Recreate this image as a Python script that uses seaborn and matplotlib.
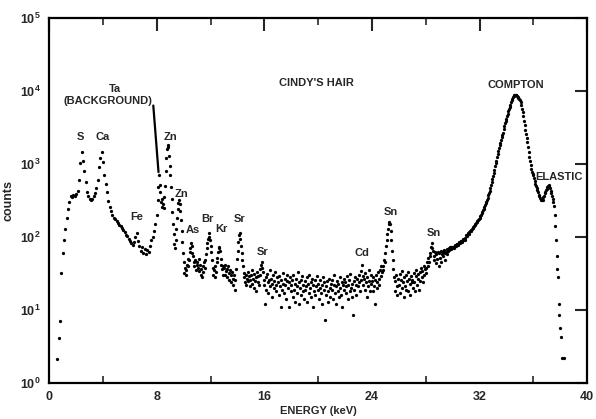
"""XRF spectrum of a hair sample, log-count scatter."""

import numpy as np
import pandas as pd
import matplotlib
matplotlib.use("Agg")
import matplotlib.pyplot as plt
import seaborn as sns
from matplotlib.ticker import FixedLocator, LogLocator, NullLocator

# channel grids (keV): start and step for each recorded block
SEG_A_START, SEG_A_STEP = 0.6, 0.1
SEG_B_START, SEG_B_STEP = 8.0, 0.05
SEG_C_START, SEG_C_STEP = 30.0, 0.05

# counts
SEG_A_COUNTS = [
    2.1, 4.2, 7.0, 32, 60, 92, 130, 180, 240, 300,
    360, 350, 380, 370, 390, 430, 600, 1030, 1450, 1100,
    800, 560, 420, 360, 330, 320, 330, 360, 400, 470,
    600, 900, 1200, 1450, 1050, 700, 540, 420, 310, 260,
    225, 200, 185, 175, 165, 158, 148, 140, 133, 125,
    117, 108, 102, 95, 88, 83, 78, 85, 100, 115,
    88, 75, 65, 72, 60, 68, 58, 66, 62, 75,
    90, 100, 120, 150,
]
SEG_B_COUNTS = [
    200, 320, 480, 700, 520, 410, 300, 330, 260, 280, 250, 350, 500, 800, 1200, 1600, 1850, 1700, 1300, 950,
    700, 480, 330, 220, 150, 110, 80, 70, 90, 130, 180, 240, 290, 320, 280, 230, 170, 120, 85, 60,
    45, 32, 38, 30, 35, 42, 40, 50, 48, 62, 70, 82, 75, 60, 55, 45, 40, 48, 35, 42,
    45, 38, 50, 34, 42, 30, 36, 28, 40, 33, 45, 38, 48, 58, 70, 82, 95, 100, 112, 90,
    75, 62, 48, 38, 30, 35, 28, 40, 33, 45, 52, 62, 70, 72, 65, 50, 42, 36, 30, 40,
    38, 30, 42, 34, 28, 36, 40, 32, 26, 35, 30, 24, 33, 27, 22, 30, 19, 26, 36, 50,
    65, 85, 105, 112, 95, 75, 60, 48, 40, 32, 28, 24, 30, 22, 27, 33, 25, 29, 21, 26,
    30, 23, 35, 27, 20, 31, 25, 18, 28, 33, 24, 29, 22, 30, 36, 42, 45, 38, 33, 26,
    22, 12, 28, 19, 31, 24, 17, 26, 35, 21, 27, 15, 23, 30, 20, 25, 33, 18, 22, 28,
    24, 16, 29, 21, 11, 26, 19, 32, 23, 17, 27, 22, 14, 25, 30, 20, 24, 11, 28, 18,
    22, 26, 15, 30, 19, 23, 13, 27, 21, 17, 33, 24, 12, 20, 26, 16, 29, 22, 18, 14,
    25, 19, 21, 28, 13, 23, 17, 30, 20, 15, 24, 27, 11, 22, 18, 26, 16, 21, 29, 19,
    23, 14, 20, 26, 17, 22, 12, 28, 19, 24, 7.3, 21, 16, 25, 18, 13, 27, 20, 15, 23,
    19, 26, 14, 22, 30, 17, 21, 12, 25, 18, 23, 15, 28, 20, 16, 24, 11, 22, 27, 19,
    24, 17, 21, 29, 14, 22, 26, 18, 31, 20, 15, 23, 8.5, 25, 19, 28, 22, 16, 27, 21,
    24, 30, 18, 26, 34, 41, 29, 22, 27, 19, 32, 24, 15, 28, 21, 35, 25, 18, 30, 23,
    25, 18, 28, 21, 12, 26, 30, 20, 24, 33, 27, 22, 35, 29, 40, 33, 40, 35, 48, 45,
    60, 75, 90, 110, 130, 150, 160, 150, 120, 90, 65, 48, 36, 28, 18, 25, 30, 21, 16, 27,
    22, 31, 17, 26, 20, 34, 24, 15, 28, 21, 30, 19, 25, 33, 18, 27, 23, 16, 29, 24,
    26, 20, 32, 24, 18, 29, 35, 22, 27, 31, 19, 33, 25, 38, 28, 34, 24, 40, 30, 36,
    38, 32, 45, 40, 52, 46, 60, 55, 72, 82, 70, 64, 55, 48, 62, 44, 58, 50, 63, 40,
    60, 52, 64, 45, 58, 62, 55, 66, 48, 60, 62, 68, 58, 64, 70, 66, 72, 68, 74, 70,
]
SEG_C_COUNTS = [
    72, 74, 71, 76, 78, 75, 79, 81, 78, 83, 85, 82, 87, 89, 86, 91, 93, 95, 92, 98,
    105, 103, 108, 112, 110, 116, 119, 122, 126, 130, 135, 133, 140, 145, 150, 155, 160, 165, 170, 178,
    185, 192, 200, 210, 220, 232, 245, 258, 272, 288, 300, 320, 345, 372, 400, 430, 470, 520, 570, 625,
    680, 760, 840, 930, 1020, 1100, 1230, 1380, 1530, 1650, 1800, 1970, 2150, 2350, 2520, 2700, 3000, 3300, 3600, 3900,
    4200, 4550, 4900, 5300, 5650, 6000, 6500, 7000, 7450, 7850, 8200, 8500, 8700, 8850, 8900, 8850, 8650, 8400, 8100, 7850,
    7500, 7000, 6400, 5700, 5100, 4500, 3900, 3400, 2900, 2600, 2300, 2000, 1700, 1450, 1250, 1100, 960, 860, 780, 740,
    700, 640, 590, 540, 500, 470, 440, 410, 380, 360, 340, 330, 322, 318, 325, 350, 370, 395, 415, 435,
    450, 480, 500, 520, 500, 470, 430, 400, 360, 330, 300, 270, 200, 140, 92, 55, 36, 28, 12, 8.5,
    5.7, 4.3, 2.2, np.nan, np.nan, 2.2,
]

PEAK_LABELS = ["S", "Ca", "Zn", "Zn", "Fe", "As", "Br", "Kr", "Sr", "Sr", "Cd", "Sn", "Sn"]
PEAK_KEV = [2.35, 3.97, 9.0, 9.85, 6.51, 10.67, 11.78, 12.82, 14.16, 15.86, 23.22, 25.44, 28.63]
PEAK_TEXT_Y = [2340, 2340, 2340, 390, 188, 125, 177, 129, 177, 62, 60, 220, 113]


def block(start, step, counts):
    counts = np.asarray(counts, dtype=float)
    return pd.DataFrame({"energy": start + step * np.arange(len(counts)), "counts": counts})


spectrum = pd.concat(
    [
        block(SEG_A_START, SEG_A_STEP, SEG_A_COUNTS),
        block(SEG_B_START, SEG_B_STEP, SEG_B_COUNTS),
        block(SEG_C_START, SEG_C_STEP, SEG_C_COUNTS),
    ],
    ignore_index=True,
).dropna()

sns.set_style("white")
plt.rcParams["font.family"] = ["Liberation Sans", "DejaVu Sans"]
plt.rcParams["mathtext.default"] = "regular"

fig = plt.figure(figsize=(5.96, 4.19), dpi=100)
ax = fig.add_axes([0.0827, 0.0859, 0.9023, 0.8711])

sns.scatterplot(data=spectrum, x="energy", y="counts", ax=ax, color="black",
                s=5.5, linewidth=0, legend=False)

ax.set_yscale("log")
ax.set_xlim(0, 40)
ax.set_ylim(1, 1e5)
ax.xaxis.set_major_locator(FixedLocator([0, 8, 16, 24, 32, 40]))
ax.xaxis.set_minor_locator(FixedLocator([4, 12, 20, 28, 36]))
ax.yaxis.set_major_locator(LogLocator(base=10, numticks=10))
ax.yaxis.set_minor_locator(NullLocator())
ax.tick_params(which="major", direction="in", length=9, width=1.5,
               top=True, right=True, labelsize=9, pad=6)
ax.tick_params(which="minor", direction="in", length=5, width=1.2, top=True, bottom=True)
for lab in ax.get_xticklabels() + ax.get_yticklabels():
    lab.set_fontweight("bold")
for spine in ax.spines.values():
    spine.set_linewidth(1.6)
    spine.set_color("black")

ax.set_xlabel("ENERGY (keV)", fontsize=8, fontweight="bold", labelpad=2)
ax.set_ylabel("counts", fontsize=9, fontweight="bold", labelpad=4)

label_style = dict(ha="center", va="center", fontsize=8, fontweight="bold")
for name, x, y in zip(PEAK_LABELS, PEAK_KEV, PEAK_TEXT_Y):
    ax.text(x, y, name, **label_style)

ax.text(19.87, 12900, "CINDY'S HAIR", **label_style)
ax.text(34.72, 12000, "COMPTON", **label_style)
ax.text(37.9, 660, "ELASTIC", **label_style)
ax.text(4.88, 10700, "Ta", **label_style)
ax.text(4.36, 7300, "(BACKGROUND)", **label_style)
ax.annotate("", xy=(8.14, 710), xytext=(7.72, 6900),
            arrowprops=dict(arrowstyle="-", lw=1.6, color="black"))

fig.savefig("out.png", dpi=100)
